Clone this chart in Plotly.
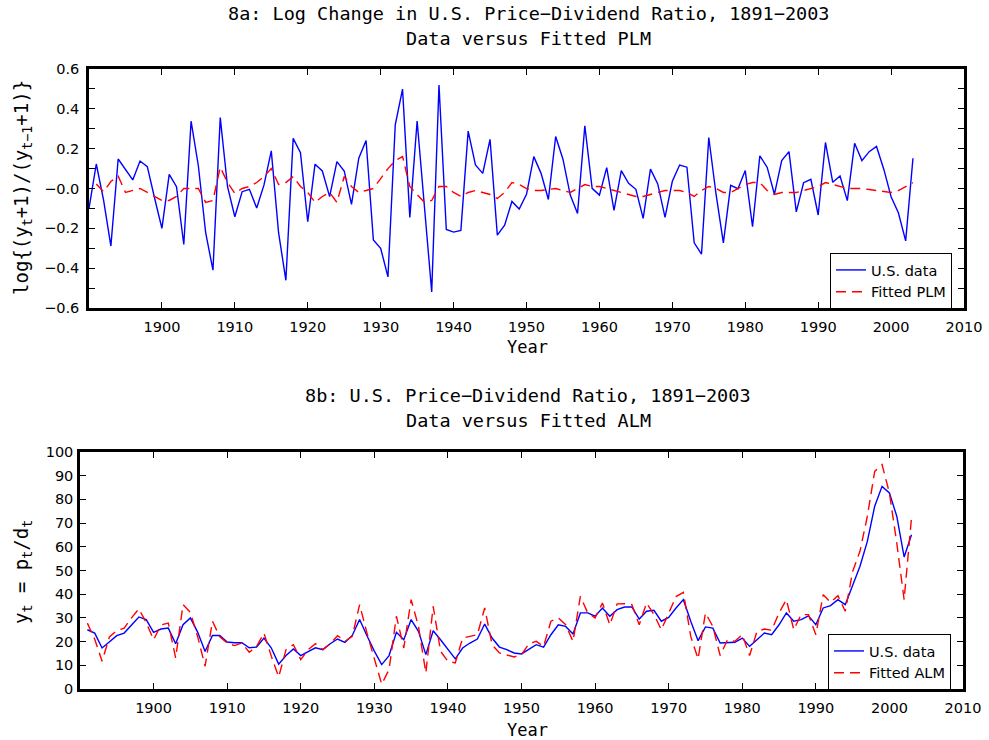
import plotly.graph_objects as go

# ---------------- data ----------------
years_top_data = list(range(1890, 2004))
us_logchg = [
    -0.100, 0.123, -0.058, -0.289, 0.148, 0.096, 0.043, 0.138, 0.110, -0.049,
    -0.200, 0.071, 0.009, -0.281, 0.338, 0.113, -0.222, -0.410, 0.356, 0.009,
    -0.142, -0.016, -0.004, -0.098, 0.018, 0.189, -0.222, -0.461, 0.252, 0.180,
    -0.167, 0.122, 0.088, -0.041, 0.135, 0.088, -0.080, 0.152, 0.241, -0.259,
    -0.300, -0.444, 0.320, 0.499, -0.145, 0.339, -0.100, -0.519, 0.520, -0.206,
    -0.219, -0.210, 0.288, 0.118, 0.076, 0.247, -0.234, -0.184, -0.065, -0.103,
    -0.029, 0.160, 0.076, -0.055, 0.261, 0.147, -0.033, -0.125, 0.315, 0.001,
    -0.033, 0.105, -0.110, 0.090, 0.026, -0.004, -0.150, 0.097, 0.023, -0.145,
    0.036, 0.118, 0.107, -0.273, -0.330, 0.256, -0.030, -0.273, 0.016, -0.001,
    0.090, -0.192, 0.164, 0.107, -0.029, 0.140, 0.185, -0.117, 0.029, 0.046,
    -0.133, 0.231, 0.031, 0.063, -0.061, 0.227, 0.140, 0.185, 0.211, 0.097,
    -0.041, -0.122, -0.263, 0.152,
]

years_fit = list(range(1891, 2004))
plm_fit = [
    0.023, -0.016, 0.035, 0.062, -0.020, -0.010, 0.000, -0.020, -0.040, -0.060,
    -0.060, -0.040, 0.000, 0.000, 0.000, -0.070, -0.060, 0.107, 0.030, -0.025,
    0.000, 0.010, 0.030, 0.060, 0.100, 0.020, 0.030, 0.060, 0.010, -0.020,
    -0.070, -0.040, -0.020, -0.070, 0.060, 0.010, -0.020, -0.010, 0.000, 0.050,
    0.100, 0.140, 0.160, 0.010, -0.030, -0.070, -0.060, 0.010, 0.010, -0.020,
    -0.040, -0.020, -0.010, -0.020, -0.030, -0.050, -0.020, 0.030, 0.020, 0.000,
    -0.010, -0.010, -0.005, 0.000, -0.010, -0.020, 0.000, 0.020, 0.010, 0.010,
    0.000, -0.010, -0.020, -0.030, -0.040, -0.040, -0.030, -0.020, -0.010, -0.010,
    -0.010, -0.020, -0.040, -0.010, 0.010, 0.000, -0.020, -0.020, 0.000, 0.020,
    0.030, 0.030, -0.010, -0.030, -0.020, -0.020, -0.020, -0.010, 0.000, 0.010,
    0.030, 0.020, 0.010, 0.000, 0.000, 0.000, -0.005, -0.010, -0.015, -0.020,
    -0.010, 0.010, 0.030,
]

years_pd = list(range(1891, 2004))
us_pd = [
    25.0, 23.6, 17.3, 20.1, 22.5, 23.6, 27.1, 30.4, 29.3, 23.9,
    25.3, 25.7, 19.1, 27.1, 30.0, 23.9, 15.8, 22.6, 22.6, 19.8,
    19.5, 19.5, 17.4, 17.7, 21.5, 17.3, 10.5, 14.1, 16.9, 14.1,
    15.8, 17.4, 16.6, 19.1, 21.1, 19.7, 22.6, 29.3, 22.5, 16.0,
    10.3, 14.1, 23.9, 20.8, 29.3, 24.3, 14.5, 24.6, 20.8, 16.9,
    12.7, 17.3, 19.4, 21.1, 27.4, 21.5, 17.7, 16.6, 15.2, 14.8,
    16.9, 18.7, 17.7, 22.9, 27.1, 26.4, 23.2, 32.1, 32.1, 30.7,
    34.2, 30.7, 33.5, 34.6, 34.6, 29.5, 32.8, 33.2, 28.6, 30.2,
    34.2, 37.7, 28.6, 20.4, 26.2, 25.7, 19.4, 19.7, 19.7, 21.5,
    18.0, 20.8, 23.6, 22.9, 27.1, 32.1, 28.6, 29.3, 30.9, 27.1,
    34.2, 35.2, 37.7, 35.6, 44.0, 51.8, 62.3, 77.1, 85.5, 82.7,
    72.9, 55.7, 65.1,
]
alm_fit = [
    27.8, 21.0, 11.7, 22.0, 24.7, 25.7, 30.0, 33.8, 28.0, 20.8,
    27.0, 27.8, 13.1, 35.6, 32.3, 22.0, 9.6, 28.6, 22.0, 19.4,
    18.3, 19.4, 15.5, 18.0, 23.6, 13.8, 5.1, 16.6, 18.7, 12.4,
    16.6, 19.1, 16.6, 19.1, 22.5, 20.1, 22.2, 35.6, 23.6, 12.4,
    2.0, 8.2, 30.7, 17.3, 37.7, 26.4, 6.8, 34.9, 15.9, 11.7,
    11.0, 21.5, 22.2, 22.9, 34.2, 18.7, 15.2, 14.5, 13.5, 14.5,
    19.1, 20.1, 18.0, 28.6, 30.0, 27.1, 20.1, 39.1, 32.1, 30.0,
    36.3, 27.1, 35.9, 36.0, 35.6, 27.1, 36.3, 31.4, 25.0, 32.0,
    39.0, 40.8, 22.2, 12.7, 32.1, 26.4, 14.1, 20.8, 20.1, 22.9,
    14.1, 24.3, 25.3, 24.8, 32.1, 37.7, 25.0, 31.4, 31.4, 22.9,
    39.8, 36.6, 39.4, 32.8, 49.6, 58.1, 72.9, 91.8, 94.7, 82.7,
    61.6, 37.7, 72.2,
]

x_ticks = list(range(1900, 2011, 10))
top_y_ticks = [-0.6, -0.4, -0.2, 0.0, 0.2, 0.4, 0.6]
top_y_labels = ["\u22120.6", "\u22120.4", "\u22120.2", "\u22120.0", "0.2", "0.4", "0.6"]
top_y_minor = [-0.5, -0.3, -0.1, 0.1, 0.3, 0.5]
bot_y_ticks = list(range(0, 101, 10))

FONT = "DejaVu Sans"
TFONT = "DejaVu Sans Mono"
W, H = 989, 740
TICK_SIZE = 14.5

fig = go.Figure()

fig.add_trace(go.Scatter(x=years_top_data, y=us_logchg, mode="lines", name="U.S. data",
                         line=dict(color="#0000ff", width=1.4), xaxis="x", yaxis="y", legend="legend"))
fig.add_trace(go.Scatter(x=years_fit, y=plm_fit, mode="lines", name="Fitted PLM",
                         line=dict(color="#ff0000", width=1.4, dash="10px,6px"), xaxis="x", yaxis="y", legend="legend"))
fig.add_trace(go.Scatter(x=years_pd, y=us_pd, mode="lines", name="U.S. data",
                         line=dict(color="#0000ff", width=1.4), xaxis="x2", yaxis="y2", legend="legend2"))
fig.add_trace(go.Scatter(x=years_pd, y=alm_fit, mode="lines", name="Fitted ALM",
                         line=dict(color="#ff0000", width=1.4, dash="10px,6px"), xaxis="x2", yaxis="y2", legend="legend2"))

axis_common = dict(showline=True, linecolor="black", linewidth=2.5, mirror="ticks",
                   ticks="inside", ticklen=6, tickwidth=1, tickcolor="black",
                   showgrid=False, zeroline=False, automargin=False,
                   tickfont=dict(family=FONT, size=TICK_SIZE, color="black"))

def px_x(p):
    return p / W

def px_y(p):
    return 1 - p / H

fig.update_layout(
    template="none",
    width=W, height=H,
    margin=dict(l=0, r=0, t=0, b=0, pad=0, autoexpand=False),
    paper_bgcolor="white", plot_bgcolor="white",
    font=dict(family=FONT, size=15, color="black"),
    xaxis=dict(domain=[px_x(89), px_x(964)], anchor="y", range=[1890, 2010],
               tickmode="array", tickvals=x_ticks, ticklabelstandoff=4, **axis_common),
    yaxis=dict(domain=[px_y(308), px_y(69)], anchor="x", range=[-0.6, 0.6],
               tickmode="array", tickvals=top_y_ticks, ticktext=top_y_labels,
               minor=dict(tickvals=top_y_minor, ticks="inside", ticklen=6, tickwidth=1, tickcolor="black"),
               ticklabelstandoff=4, **axis_common),
    xaxis2=dict(domain=[px_x(80), px_x(963)], anchor="y2", range=[1890, 2010],
                tickmode="array", tickvals=x_ticks, ticklabelstandoff=4, **axis_common),
    yaxis2=dict(domain=[px_y(689), px_y(452)], anchor="x2", range=[0, 100],
                tickmode="array", tickvals=bot_y_ticks, ticklabelstandoff=1, **axis_common),
    legend=dict(x=px_x(952), xanchor="right", y=px_y(253), yanchor="top",
                bgcolor="white", bordercolor="black", borderwidth=1,
                font=dict(family=FONT, size=14.5, color="black"), tracegroupgap=0),
    legend2=dict(x=px_x(951), xanchor="right", y=px_y(634), yanchor="top",
                 bgcolor="white", bordercolor="black", borderwidth=1,
                 font=dict(family=FONT, size=14.5, color="black"), tracegroupgap=0),
    showlegend=True,
)

def ann(text, x, y, size=16, angle=0):
    fig.add_annotation(text=text, x=px_x(x), y=px_y(y), xref="paper", yref="paper",
                       showarrow=False, textangle=angle, xanchor="center", yanchor="middle",
                       font=dict(family=TFONT, size=size, color="black"))

ann("8a: Log Change in U.S. Price\u2212Dividend Ratio, 1891\u22122003", 528, 13, 18.5)
ann("Data versus Fitted PLM", 528, 38, 18.5)
ann("Year", 527, 347, 17)
ann("log{(y<sub>t</sub>+1)/(y<sub>t\u22121</sub>+1)}", 22, 188, 19, -90)

ann("8b: U.S. Price\u2212Dividend Ratio, 1891\u22122003", 528, 395, 18.5)
ann("Data versus Fitted ALM", 528, 420, 18.5)
ann("Year", 527, 730, 17)
ann("y<sub>t</sub> = p<sub>t</sub>/d<sub>t</sub>", 22, 572, 19, -90)

# the page's default 8px body margin would push the 989x740 figure off the window
fig.write_html("out.html", config={"displayModeBar": False},
               post_script="document.body.style.margin='0px';")
